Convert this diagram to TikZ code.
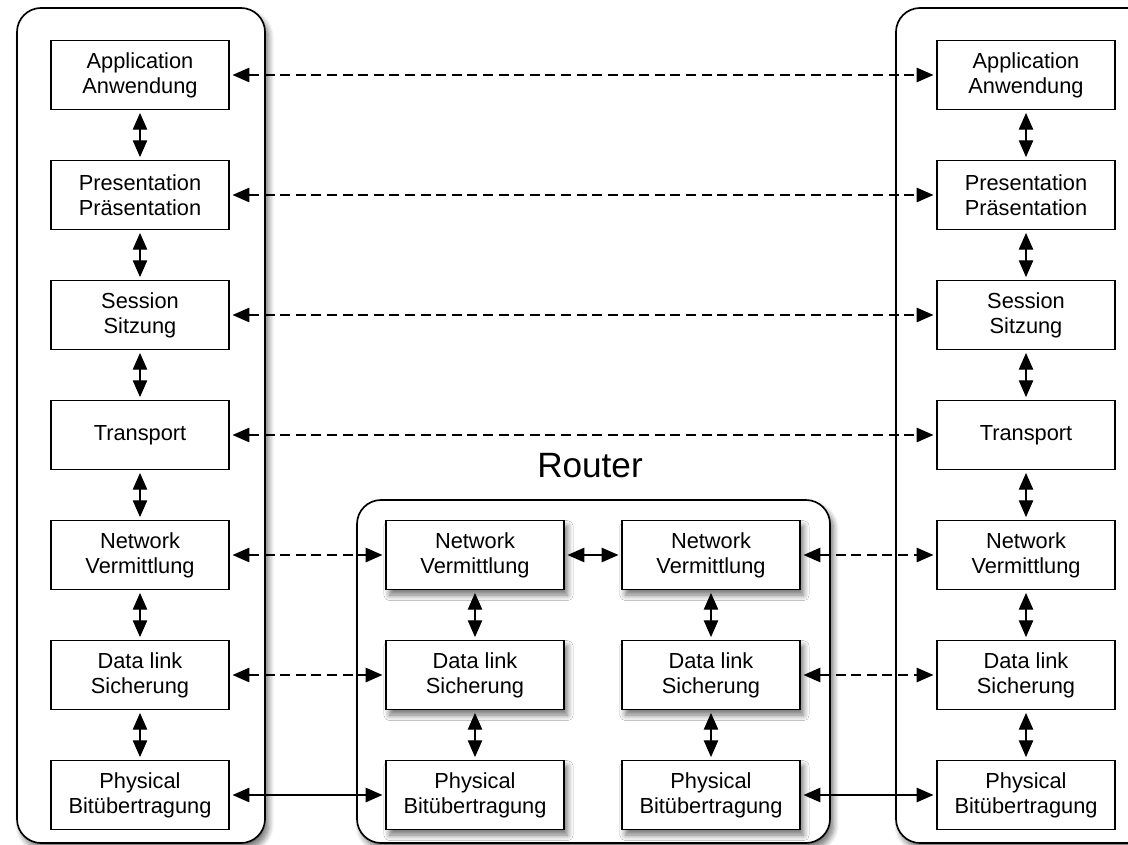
\documentclass[tikz,border=0pt]{standalone}
\usepackage{fontspec}
\setmainfont{Liberation Sans}
\usetikzlibrary{arrows.meta,shadows.blur}

\tikzset{
  layer/.style={draw, line width=1pt, fill=white, minimum width=4.45cm,
    minimum height=1.72cm, inner sep=0pt, align=center,
    font=\fontsize{15.5}{17.8}\selectfont},
  shadowed/.style={blur shadow={shadow xshift=2.5pt, shadow yshift=-4pt,
    shadow blur steps=8, shadow blur radius=4pt, shadow opacity=55}},
  stack/.style={draw, line width=1.2pt, rounded corners=0.6cm, fill=white},
  link/.style={line width=1pt,
    {Triangle[length=0.42cm,width=0.36cm,fill=black]}-{Triangle[length=0.42cm,width=0.36cm,fill=black]},
    shorten >=2pt, shorten <=2pt},
  peer/.style={link, dash pattern=on 0.25cm off 0.14cm},
}

\begin{document}
\begin{tikzpicture}[x=0.025cm, y=-0.025cm]
\useasboundingbox (0,0) rectangle (1128,845);

% end systems and router
\path[stack, shadowed] (17,8) rectangle (265,843);
\path[stack, shadowed] (896,8) rectangle (1160,843);
\path[stack, shadowed] (357,500) rectangle (830,843);
\node[font=\fontsize{25}{30}\selectfont] (router) at (590,466) {Router};

% the seven layers
\foreach \txt [count=\i] in {{Application\\Anwendung}, {Presentation\\Präsentation},
    {Session\\Sitzung}, Transport, {Network\\Vermittlung}, {Data link\\Sicherung},
    {Physical\\Bitübertragung}} {
  \node[layer] (l\i) at (140, {75+120*(\i-1)}) {\txt};
  \node[layer] (r\i) at (1026, {75+120*(\i-1)}) {\txt};
}
\foreach \txt [count=\i from 5] in {{Network\\Vermittlung}, {Data link\\Sicherung},
    {Physical\\Bitübertragung}} {
  \node[layer, shadowed] (ra\i) at (475, {75+120*(\i-1)}) {\txt};
  \node[layer, shadowed] (rb\i) at (711, {75+120*(\i-1)}) {\txt};
}

% vertical links
\foreach \i/\j in {1/2, 2/3, 3/4, 4/5, 5/6, 6/7} {
  \draw[link] (l\i) -- (l\j);
  \draw[link] (r\i) -- (r\j);
}
\foreach \i/\j in {5/6, 6/7} {
  \draw[link] (ra\i) -- (ra\j);
  \draw[link] (rb\i) -- (rb\j);
}

% peer links
\foreach \i in {1,...,4}
  \draw[peer] (l\i) -- (r\i);
\draw[peer] (l5) -- (ra5);
\draw[peer] (l6) -- (ra6);
\draw[link] (l7) -- (ra7);
\draw[link] (ra5) -- (rb5);
\draw[peer] (rb5) -- (r5);
\draw[peer] (rb6) -- (r6);
\draw[link] (rb7) -- (r7);
\end{tikzpicture}
\end{document}
